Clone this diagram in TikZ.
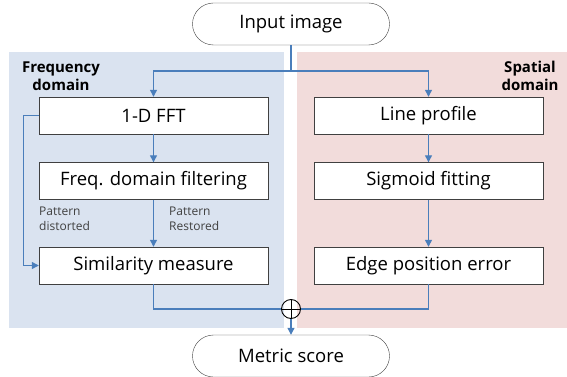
\documentclass[tikz,border=0pt]{standalone}
\usepackage{fontspec}
\setmainfont{Open Sans}
\usetikzlibrary{shapes.misc,arrows.meta}
\definecolor{bluebg}{HTML}{DAE3F0}
\definecolor{pinkbg}{HTML}{F2DCDB}
\definecolor{arr}{HTML}{4A7EBB}
\definecolor{bord}{HTML}{404040}
\begin{document}
\begin{tikzpicture}[x=1pt,y=-1pt,
 stadium/.style={draw=bord, rounded rectangle, minimum width=197pt, minimum height=42pt, inner sep=0pt, font=\fontsize{18.5}{20}\selectfont, fill=white},
 procbox/.style={draw=bord, fill=white, minimum width=229pt, minimum height=37pt, inner sep=0pt, font=\fontsize{18.5}{20}\selectfont},
 flow/.style={draw=arr, line width=1.2pt, -{Triangle[width=7pt,length=7pt]}},
 link/.style={draw=arr, line width=1.2pt},
 lbl/.style={font=\fontsize{12}{14.5}\selectfont, text=bord, align=left, anchor=north west, inner sep=0pt},
 domainlbl/.style={font=\bfseries\fontsize{15}{18}\selectfont, inner sep=0pt, align=center}]
\useasboundingbox (0,0) rectangle (567,377);
\fill[bluebg] (9,52) rectangle (284,328);
\fill[pinkbg] (297,52) rectangle (567,328);
\node[domainlbl] (fd) at (61,76) {Frequency\\domain};
\node[domainlbl] (sd) at (530,76) {Spatial\\domain};
\node[stadium] (in) at (291,24) {Input image};
\node[procbox] (fft) at (153.5,115.5) {1-D FFT};
\node[procbox] (filt) at (153.5,181) {Freq. domain filtering};
\node[procbox] (sim) at (153.5,265.5) {Similarity measure};
\node[procbox] (lp) at (428.5,115.5) {Line profile};
\node[procbox] (sig) at (428.5,181) {Sigmoid fitting};
\node[procbox] (epe) at (428.5,265.5) {Edge position error};
\node[lbl] (pd) at (39,207) {Pattern\\distorted};
\node[lbl] (pr) at (169,207) {Pattern\\Restored};
\node[draw=black, line width=0.9pt, circle, minimum size=19pt, inner sep=0pt] (op) at (291,309) {};
\draw[black, line width=0.9pt] (op.north) -- (op.south) (op.west) -- (op.east);
\node[stadium] (out) at (291,356) {Metric score};
\coordinate (split) at (291,71);
\draw[link] (in.south) -- (split);
\draw[flow] (split) -| (fft.north);
\draw[flow] (split) -| (lp.north);
\draw[flow] (fft.south) -- (filt.north);
\draw[flow] (filt.south) -- (sim.north);
\draw[flow] (fft.west) -- ++(-15,0) |- (sim.west);
\draw[flow] (lp.south) -- (sig.north);
\draw[flow] (sig.south) -- (epe.north);
\draw[link] (sim.south) |- (op.west);
\draw[link] (epe.south) |- (op.east);
\draw[flow] (op.south) -- (out.north);
\end{tikzpicture}
\end{document}
